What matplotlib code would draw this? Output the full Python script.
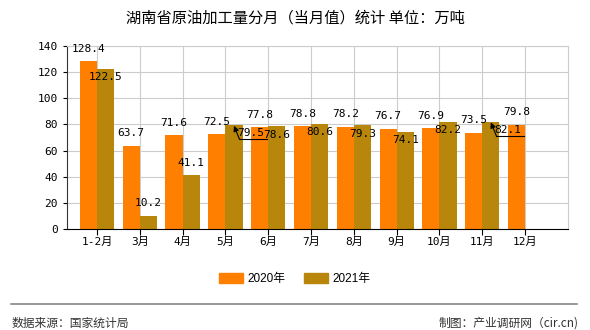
import numpy as np
import matplotlib.pyplot as plt
from matplotlib.patches import Patch
from matplotlib.lines import Line2D

plt.rcParams['font.family'] = ['Noto Sans CJK SC', 'DejaVu Sans']

# 数据
months = ['1-2月', '3月', '4月', '5月', '6月', '7月', '8月', '9月', '10月', '11月', '12月']
val_2020 = [128.4, 63.7, 71.6, 72.5, 77.8, 78.8, 78.2, 76.7, 76.9, 73.5, 79.8]
val_2021 = [122.5, 10.2, 41.1, 79.5, 78.6, 80.6, 79.3, 74.1, 82.2, 82.1, None]

c2020 = '#ff8000'
c2021 = '#b8860b'
mono = ['DejaVu Sans Mono', 'Noto Sans CJK SC']

fig = plt.figure(figsize=(5.9, 3.3), dpi=100)
ax = fig.add_axes([0.1136, 0.306, 0.849, 0.5546])

x = np.arange(len(months))
w = 0.4
ax.bar(x - w / 2, val_2020, w, color=c2020, zorder=2)
x21 = [i for i, v in enumerate(val_2021) if v is not None]
v21 = [v for v in val_2021 if v is not None]
ax.bar(np.array(x21) + w / 2, v21, w, color=c2021, zorder=2)

# 数值标签
for i, v in enumerate(val_2020):
    ax.annotate(f'{v}', (i - w / 2, v), xytext=(0, 9), textcoords='offset points',
                ha='center', va='center', fontsize=8, family=mono, zorder=4)
for i, v in zip(x21, v21):
    diff = v - val_2020[i]
    if diff > 6:
        # 标签移开，加引线
        ax.text(i + 0.6, v - 6, f'{v}', ha='center', va='center', fontsize=8,
                family=mono, zorder=4)
        ax.annotate('', xy=(i + 0.2, v - 0.5), xytext=(i + 0.33, v - 11),
                    arrowprops=dict(arrowstyle='-|>', color='black', lw=0.8,
                                    mutation_scale=8, shrinkA=0, shrinkB=0), zorder=4)
        ax.plot([i + 0.33, i + 0.98], [v - 11, v - 11], color='black', lw=0.8, zorder=4)
    elif abs(diff) < 10:
        ax.annotate(f'{v}', (i + w / 2, v), xytext=(0, -6), textcoords='offset points',
                    ha='center', va='center', fontsize=8, family=mono, zorder=4)
    else:
        ax.annotate(f'{v}', (i + w / 2, v), xytext=(0, 9), textcoords='offset points',
                    ha='center', va='center', fontsize=8, family=mono, zorder=4)

ax.set_xlim(-0.7, 11)
ax.set_ylim(0, 140)
ax.set_yticks(range(0, 141, 20))
ax.set_xticks(x)
ax.set_xticklabels(months, family=mono, fontsize=8)
ax.tick_params(axis='y', labelsize=8, length=3)
ax.tick_params(axis='x', length=4, pad=2)
for lab in ax.get_yticklabels():
    lab.set_family(mono)

ax.grid(True, color='#cccccc', linewidth=0.8, zorder=0)
ax.set_axisbelow(True)
ax.spines['top'].set_color('#cccccc')
ax.spines['right'].set_color('#cccccc')
ax.spines['left'].set_color('#333333')
ax.spines['bottom'].set_color('black')

fig.text(0.5, 0.945, '湖南省原油加工量分月（当月值）统计 单位：万吨', ha='center', va='center',
         fontsize=11)

handles = [Patch(color=c2020, label='2020年'), Patch(color=c2021, label='2021年')]
fig.legend(handles=handles, loc='center', bbox_to_anchor=(0.5, 0.155), ncol=2, frameon=False,
           handlelength=2.0, handleheight=0.9, columnspacing=1.6, handletextpad=0.4,
           prop={'family': ['Liberation Sans', 'Noto Sans CJK SC'], 'size': 8.5})

fig.add_artist(Line2D([0.019, 0.978], [0.079, 0.079], color='#888888', linewidth=1.2))
fig.text(0.02, 0.02, '数据来源：国家统计局', ha='left', va='center', fontsize=8.5, color='#333333')
fig.text(0.98, 0.02, '制图：产业调研网（cir.cn)', ha='right', va='center', fontsize=8.5, color='#333333')

fig.savefig('out.png', dpi=100)
